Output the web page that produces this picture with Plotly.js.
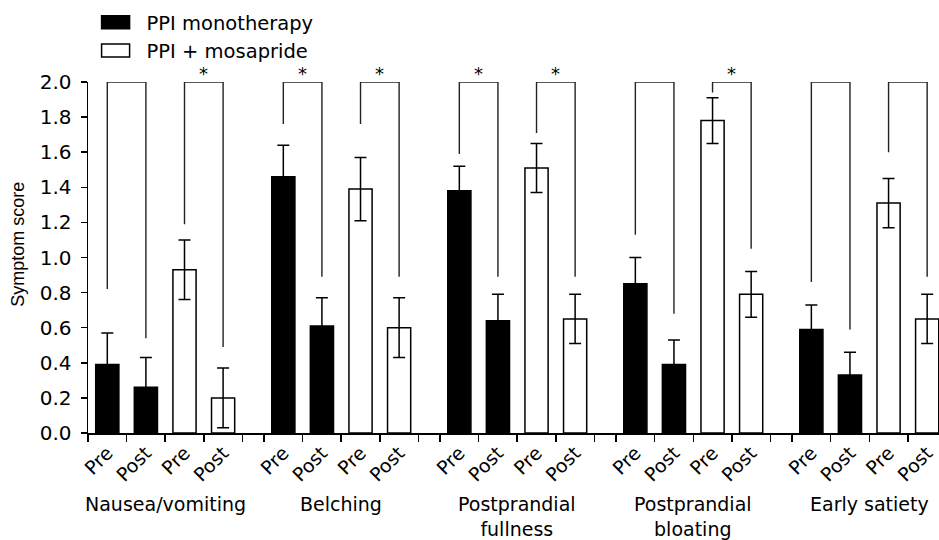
<!DOCTYPE html>
<html><head><meta charset="utf-8">
<script src="https://cdn.plot.ly/plotly-3.0.1.min.js"></script>
<style>html,body{margin:0;padding:0;background:#fff;overflow:hidden}</style>
</head><body><div id="chart" style="width:939px;height:540px"></div>
<script>
// ---- data ----
const categories = ["Nausea/vomiting", "Belching", "Postprandial<br>fullness", "Postprandial<br>bloating", "Early satiety"];
const timepoints = ["Pre", "Post"];
const seriesNames = ["PPI monotherapy", "PPI + mosapride"];

const ppiPre     = [0.39, 1.46, 1.38, 0.85, 0.59];
const ppiPreErr  = [0.18, 0.18, 0.14, 0.15, 0.14];
const ppiPost    = [0.26, 0.61, 0.64, 0.39, 0.33];
const ppiPostErr = [0.17, 0.16, 0.15, 0.14, 0.13];
const mosPre     = [0.93, 1.39, 1.51, 1.78, 1.31];
const mosPreErr  = [0.17, 0.18, 0.14, 0.13, 0.14];
const mosPost    = [0.20, 0.60, 0.65, 0.79, 0.65];
const mosPostErr = [0.17, 0.17, 0.14, 0.13, 0.14];

// comparison brackets (leg bottoms, top) and significance
const bracketTop      = 2.0;
const ppiBracketPre   = [0.82, 1.76, 1.59, 1.13, 0.86];
const ppiBracketPost  = [0.54, 0.89, 0.89, 0.68, 0.59];
const mosBracketPre   = [1.19, 1.76, 1.71, 1.94, 1.60];
const mosBracketPost  = [0.49, 0.89, 0.89, 1.05, 0.89];
const ppiSignificant  = [false, true, true, false, false];
const mosSignificant  = [true, true, true, true, false];

const yTickVals = [0, 0.2, 0.4, 0.6, 0.8, 1.0, 1.2, 1.4, 1.6, 1.8, 2.0];
const yTitle = "Symptom score";

// ---- layout helpers ----
const groupStep = 4.56;      // 4 slots + gap
const slotPx = 38.6;
const plotLeft = 88, plotTop = 82, plotBottom = 433.3;
const W = 939, H = 540;
const plotH = plotBottom - plotTop, plotW = W - plotLeft;
const xMax = plotW / slotPx;
const slotX = (g, s) => g * groupStep + s + 0.5;

const DJ = "DejaVu Sans";
const LS = "Liberation Sans, Arial, sans-serif";

function seriesXY(pre, post, preErr, postErr, s0) {
  const x = [], y = [], e = [];
  categories.forEach((c, g) => {
    x.push(slotX(g, s0)); y.push(pre[g]); e.push(preErr[g]);
    x.push(slotX(g, s0 + 1)); y.push(post[g]); e.push(postErr[g]);
  });
  return {x, y, e};
}
const A = seriesXY(ppiPre, ppiPost, ppiPreErr, ppiPostErr, 0);
const B = seriesXY(mosPre, mosPost, mosPreErr, mosPostErr, 2);

const traces = [
  {type: "bar", name: seriesNames[0], x: A.x, y: A.y, width: 0.6,
   marker: {color: "#000", line: {color: "#000", width: 1.5}},
   error_y: {type: "data", array: A.e, visible: true, color: "#000", thickness: 1.5, width: 6},
   cliponaxis: false, hoverinfo: "y"},
  {type: "bar", name: seriesNames[1], x: B.x, y: B.y, width: 0.6,
   marker: {color: "#fff", line: {color: "#000", width: 1.5}},
   error_y: {type: "data", array: B.e, visible: true, color: "#000", thickness: 1.5, width: 6},
   cliponaxis: false, hoverinfo: "y"}
];

// brackets
const bx = [], by = [];
function addBracket(x0, x1, y0, y1) {
  bx.push(x0, x0, x1, x1, null);
  by.push(y0, bracketTop, bracketTop, y1, null);
}
categories.forEach((c, g) => {
  addBracket(slotX(g, 0), slotX(g, 1), ppiBracketPre[g], ppiBracketPost[g]);
  addBracket(slotX(g, 2), slotX(g, 3), mosBracketPre[g], mosBracketPost[g]);
});
traces.push({type: "scatter", mode: "lines", x: bx, y: by, showlegend: false,
  line: {color: "#222", width: 1.4}, cliponaxis: false, hoverinfo: "skip"});

const annotations = [];
categories.forEach((c, g) => {
  annotations.push({xref: "x", yref: "paper", x: g * groupStep + 2, y: -0.165,
    xanchor: "center", yanchor: "top", text: c, showarrow: false,
    font: {family: DJ, size: 19, color: "#000"}});
  [[ppiSignificant, 0], [mosSignificant, 2]].forEach(([sig, s0]) => {
    if (sig[g]) annotations.push({xref: "x", yref: "y", x: (slotX(g, s0) + slotX(g, s0 + 1)) / 2,
      y: bracketTop, yanchor: "bottom", yshift: -4, text: "*", showarrow: false,
      font: {family: DJ, size: 18, color: "#000"}});
  });
});
// y-axis title (placed as rotated text, slightly above the plot centre as in the source)
annotations.push({xref: "paper", yref: "paper", x: (18 - plotLeft) / plotW, y: (plotBottom - 245) / plotH,
  xanchor: "center", yanchor: "middle", textangle: -90, text: yTitle, showarrow: false,
  font: {family: LS, size: 18, color: "#000"}});

const centers = [], centerText = [], bounds = [];
categories.forEach((c, g) => {
  for (let s = 0; s < 4; s++) { centers.push(slotX(g, s)); centerText.push(timepoints[s % 2]); }
  for (let s = 0; s <= 4; s++) bounds.push(g * groupStep + s);
});

const layout = {
  width: W, height: H,
  margin: {l: plotLeft, r: 0, t: plotTop, b: H - plotBottom, pad: 0, autoexpand: false},
  paper_bgcolor: "#fff", plot_bgcolor: "#fff",
  barmode: "overlay",
  showlegend: true,
  legend: {xref: "paper", yref: "paper", x: -0.004, y: 1 + (plotTop - 3) / plotH, xanchor: "left", yanchor: "top",
    font: {family: DJ, size: 19.5, color: "#000"}, bgcolor: "rgba(0,0,0,0)", tracegroupgap: 0,
    itemwidth: 52},
  xaxis: {range: [0, xMax], showgrid: false, zeroline: false, showline: true, automargin: false,
    linecolor: "#000", linewidth: 1.5,
    tickmode: "array", tickvals: centers, ticktext: centerText, ticks: "", tickangle: -45,
    tickfont: {family: DJ, size: 19, color: "#000"},
    minor: {tickmode: "array", tickvals: bounds, ticks: "outside", ticklen: 7, tickwidth: 1.5, tickcolor: "#000", showgrid: false},
    fixedrange: true},
  yaxis: {range: [0, 2.0], showgrid: false, zeroline: false, showline: true, automargin: false,
    linecolor: "#000", linewidth: 1.5,
    tickmode: "array", tickvals: yTickVals, ticktext: yTickVals.map(v => v.toFixed(1)),
    ticks: "outside", ticklen: 6, tickwidth: 1.5, tickcolor: "#000", ticklabelstandoff: 5,
    tickfont: {family: DJ, size: 20, color: "#000"},
    fixedrange: true},
  annotations: annotations
};

Plotly.newPlot("chart", traces, layout, {displayModeBar: false, staticPlot: true}).then(gd => {
  gd.querySelectorAll(".legend .legendpoints path").forEach(p => {
    p.setAttribute("d", "M14,6.5H-14V-6.5H14Z");
  });
});
</script></body></html>
